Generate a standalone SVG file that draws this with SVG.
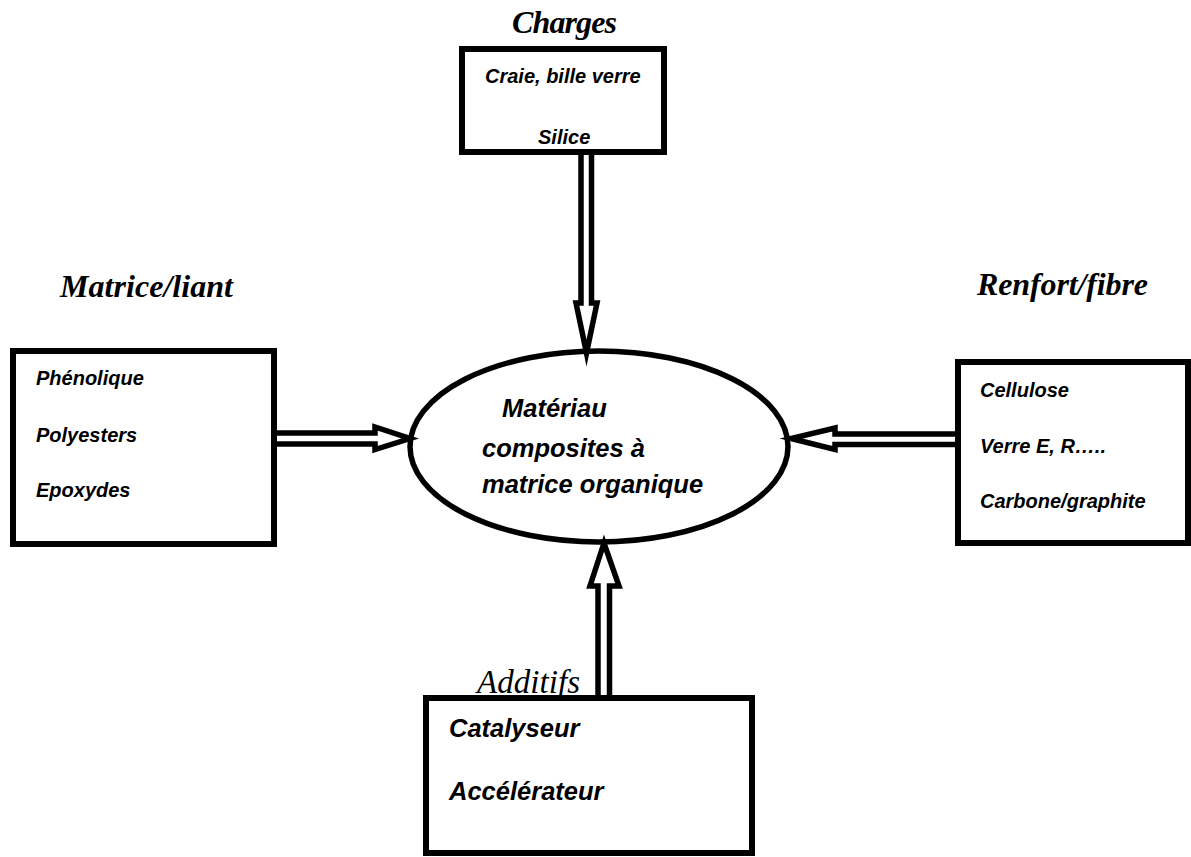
<svg xmlns="http://www.w3.org/2000/svg" width="1191" height="857" viewBox="0 0 1191 857">
  <style>
    .box { fill: #ffffff; stroke: #000000; stroke-width: 6; }
    .hub { fill: #ffffff; stroke: #000000; stroke-width: 5.5; }
    .arrow { fill: #ffffff; stroke: #000000; stroke-width: 5.5; stroke-linejoin: miter; stroke-miterlimit: 10; }
    .title { font-family: "Liberation Serif", "Times New Roman", serif; font-style: italic; font-weight: bold; font-size: 32px; fill: #000000; }
    .title-light { font-family: "Liberation Serif", "Times New Roman", serif; font-style: italic; font-weight: normal; font-size: 33px; fill: #000000; }
    .item { font-family: "Liberation Sans", Arial, sans-serif; font-style: italic; font-weight: bold; font-size: 20px; fill: #000000; }
    .item-lg { font-family: "Liberation Sans", Arial, sans-serif; font-style: italic; font-weight: bold; font-size: 25.5px; fill: #000000; }
  </style>

  <rect width="1191" height="857" fill="#ffffff"/>

  <!-- central material -->
  <g id="node-composite">
    <ellipse class="hub" cx="599" cy="446.5" rx="189" ry="95.5"/>
    <text class="item-lg" x="502" y="417">Matériau</text>
    <text class="item-lg" x="482" y="457">composites à</text>
    <text class="item-lg" x="482" y="493">matrice organique</text>
  </g>

  <!-- hollow block arrows feeding the composite -->
  <g id="connectors">
    <polygon id="arrow-charges" class="arrow" points="581,150 581,303 576,303 586.5,353 597,303 591.5,303 591.5,150"/>
    <polygon id="arrow-matrice" class="arrow" points="272,433 375,433 375,427 410,438.5 375,449.5 375,444 272,444"/>
    <polygon id="arrow-renfort" class="arrow" points="961,434 835,434 835,428 791,438.5 835,449.5 835,444.5 961,444.5"/>
    <polygon id="arrow-additifs" class="arrow" points="598,700 598,586 590,586 604,543 619,586 609.5,586 609.5,700"/>
  </g>

  <g id="node-charges">
    <text class="title" x="512" y="33" textLength="105">Charges</text>
    <rect class="box" x="462" y="49" width="202" height="103"/>
    <text class="item" x="485" y="83">Craie, bille verre</text>
    <text class="item" x="538" y="144">Silice</text>
  </g>

  <g id="node-matrice">
    <text class="title" x="60" y="297" textLength="173">Matrice/liant</text>
    <rect class="box" x="13" y="351" width="261" height="193"/>
    <text class="item" x="36" y="385">Phénolique</text>
    <text class="item" x="36" y="442">Polyesters</text>
    <text class="item" x="36" y="497">Epoxydes</text>
  </g>

  <g id="node-renfort">
    <text class="title" x="977" y="295" textLength="171">Renfort/fibre</text>
    <rect class="box" x="958" y="362" width="230" height="181"/>
    <text class="item" x="980" y="397">Cellulose</text>
    <text class="item" x="980" y="453">Verre E, R…..</text>
    <text class="item" x="980" y="508">Carbone/graphite</text>
  </g>

  <g id="node-additifs">
    <rect class="box" x="426" y="698" width="326" height="155"/>
    <text class="title-light" x="477" y="693" textLength="103">Additifs</text>
    <text class="item-lg" x="449" y="737">Catalyseur</text>
    <text class="item-lg" x="449" y="800">Accélérateur</text>
  </g>
</svg>
